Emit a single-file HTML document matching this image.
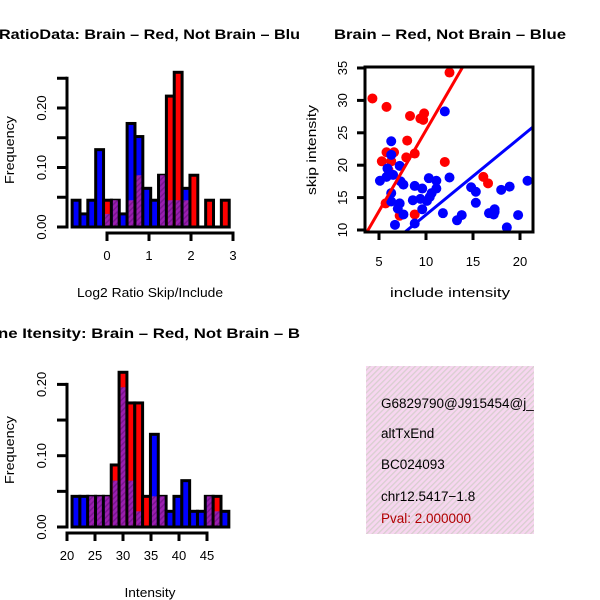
<!DOCTYPE html>
<html><head><meta charset="utf-8"><style>
body{margin:0;background:#fff}
svg{display:block;font-family:"Liberation Sans",sans-serif}
</style></head><body>
<svg id="c" width="600" height="600" viewBox="0 0 600 600" xmlns="http://www.w3.org/2000/svg">
<defs>
<pattern id="hatch" width="4" height="4" patternUnits="userSpaceOnUse" patternTransform="rotate(45)">
<rect width="4" height="4" fill="#9b1fb0"/><rect width="1.5" height="4" fill="#7a1590"/>
</pattern>
<pattern id="pink" width="4" height="4" patternUnits="userSpaceOnUse" patternTransform="rotate(45)">
<rect width="4" height="4" fill="#f7d6f0"/><rect width="1.3" height="4" fill="#d8cfcf"/>
</pattern>
<clipPath id="left"><rect x="0" y="0" width="300" height="600"/></clipPath>
<clipPath id="sc"><rect x="365" y="67" width="168" height="165"/></clipPath>
<clipPath id="box"><rect x="366" y="366" width="168" height="168"/></clipPath>
</defs>
<g id="g1"></g><g id="g2"></g><g id="g3"></g>
<g>
<rect x="366" y="366" width="168" height="168" fill="url(#pink)"/>
<g clip-path="url(#box)" font-size="13.5">
<text x="381" y="408">G6829790@J915454@j_</text>
<text x="381" y="438">altTxEnd</text>
<text x="381" y="469">BC024093</text>
<text x="381" y="501">chr12.5417−1.8</text>
<text x="381" y="523" fill="#b00000">Pval: 2.000000</text>
</g></g>
</svg>
<script>
// Histogram 1 data (Log2 ratio)
const h1Start = -0.83, h1Width = 0.187;
const h1Blue = [0.045,0.022,0.045,0.13,0.022,0.045,0.022,0.174,0.152,0.065,0.045,0.087,0.045,0.045,0.065,0,0,0,0,0];
const h1Red  = [0,0,0,0,0.045,0.045,0,0.045,0.087,0,0,0.087,0.22,0.26,0.045,0.087,0,0.045,0,0.045];
const h1XTicks = [0,1,2,3];
const h1YTicks = [0,0.05,0.10,0.15,0.20,0.25];
// Histogram 2 data (Intensity)
const h2Start = 20.9, h2Width = 1.4;
const h2Blue = [0.043,0.043,0.043,0.043,0.043,0.065,0.196,0.065,0.022,0,0.13,0.043,0.022,0.043,0.065,0.022,0.022,0.043,0.022,0.022];
const h2Red  = [0,0,0.043,0.043,0.043,0.087,0.217,0.174,0.174,0.043,0.043,0.043,0,0,0,0,0,0.043,0.043,0];
const h2XTicks = [20,25,30,35,40,45];
const h2YTicks = [0,0.05,0.10,0.15,0.20];
// Scatter data
const redX = [4.3,5.8,12.5,8.3,9.4,9.8,9.7,8.0,5.3,5.8,6.6,6.3,7.9,8.8,12.0,6.0,5.7,7.2,8.8,16.1,16.6];
const redY = [30.3,29.0,34.3,27.6,27.2,28.0,27.0,23.8,20.6,22.0,22.0,20.6,21.2,21.8,20.5,19.3,14.1,12.2,12.4,18.2,17.2];
const blueX = [6.3,12.0,6.3,7.2,5.9,5.1,5.8,6.5,7.3,7.6,6.3,6.3,7.2,7.0,7.6,6.7,8.8,9.6,8.6,9.4,10.1,9.6,10.3,11.1,11.1,10.6,10.4,11.8,12.5,13.3,13.8,8.8,14.8,15.3,15.3,16.7,17.3,17.3,17.2,18.0,18.9,18.6,19.8,20.8];
const blueY = [23.7,28.3,21.6,19.9,19.5,17.6,18.2,18.5,17.5,17.0,15.7,14.4,14.1,13.3,12.4,10.8,16.8,16.4,14.6,14.8,14.5,13.2,18.0,17.6,16.4,15.7,15.1,12.6,18.1,11.5,12.3,11.0,16.6,15.9,14.2,12.6,12.8,13.2,12.4,16.2,16.7,10.4,12.3,17.6];
const redFit = [0.4, 2.5];   // intercept, slope
const blueFit = [0.45, 1.19];
const scXTicks = [5,10,15,20];
const scYTicks = [10,15,20,25,30,35];

const NS="http://www.w3.org/2000/svg";
function mk(parent,tag,attrs,text){const e=document.createElementNS(NS,tag);for(const k in attrs)e.setAttribute(k,attrs[k]);if(text!==undefined)e.textContent=text;parent.appendChild(e);return e;}

function hist(g,cfg){
  const sx=v=>cfg.x0+(v-cfg.xa)*cfg.kx, sy=v=>cfg.y0-v*cfg.ky;
  const title=mk(g,'text',{x:cfg.titleX,y:cfg.titleY,'font-size':14,'font-weight':'bold',textLength:cfg.titleLen,lengthAdjust:'spacingAndGlyphs','clip-path':'url(#left)'},cfg.title);
  
  
  const bars=mk(g,'g',{});
  
  
  for(let i=0;i<cfg.blue.length;i++){
    const b=cfg.blue[i], r=cfg.red[i];
    const xl=sx(cfg.start+i*cfg.width), xr=sx(cfg.start+(i+1)*cfg.width);
    const top=Math.max(b,r), mn=Math.min(b,r);
    if(top<=0) continue;
    const col=b>=r?'#0000ff':'#ff0000';
    const bar=mk(bars,'rect',{x:xl,y:sy(top),width:xr-xl,height:sy(0)-sy(top),fill:col,stroke:'#000','stroke-width':3});
    
    
    if(mn>0){
      const p=mk(bars,'rect',{x:xl+1.5,y:sy(mn),width:xr-xl-3,height:sy(0)-sy(mn)-1.5,fill:'url(#hatch)'});
      
      
    }
  }
  mk(bars,'line',{x1:sx(cfg.start)-1,x2:sx(cfg.start+cfg.blue.length*cfg.width)+1,y1:sy(0),y2:sy(0),stroke:'#000','stroke-width':3});
  const ya=mk(g,'g',{});
  
  
  const yt=cfg.yticks;
  mk(ya,'line',{x1:67,x2:67,y1:sy(yt[0])+1.5,y2:sy(yt[yt.length-1])-1.5,stroke:'#000','stroke-width':3});
  yt.forEach((v,i)=>{
    mk(ya,'line',{x1:57,x2:67,y1:sy(v),y2:sy(v),stroke:'#000','stroke-width':3});
    if(i%2===0){mk(ya,'text',{x:0,y:0,'font-size':13,'text-anchor':'middle',transform:`translate(46,${sy(v)}) rotate(-90)`},v.toFixed(2));}
  });
  const yl=mk(g,'text',{x:0,y:0,'font-size':13,'text-anchor':'middle',textLength:68,lengthAdjust:'spacingAndGlyphs',transform:`translate(14,${cfg.ylabY}) rotate(-90)`},'Frequency');
  
  
  const xa=mk(g,'g',{});
  
  
  const xt=cfg.xticks, ay=cfg.axisY;
  mk(xa,'line',{x1:sx(xt[0])-1.5,x2:sx(xt[xt.length-1])+1.5,y1:ay,y2:ay,stroke:'#000','stroke-width':3});
  xt.forEach(v=>{
    mk(xa,'line',{x1:sx(v),x2:sx(v),y1:ay,y2:ay+8,stroke:'#000','stroke-width':3});
    mk(xa,'text',{x:sx(v),y:ay+27,'font-size':13,'text-anchor':'middle'},String(v));
  });
  const xl=mk(g,'text',{x:150,y:cfg.xlabY,'font-size':13,'text-anchor':'middle',textLength:cfg.xlabLen,lengthAdjust:'spacingAndGlyphs'},cfg.xlab);
  
  
}

hist(document.getElementById('g1'),{title:'RatioData: Brain – Red, Not Brain – Blue',titleX:-1,titleY:39,titleLen:310,
  xa:0,x0:107,kx:42,y0:227,ky:595,start:h1Start,width:h1Width,blue:h1Blue,red:h1Red,
  xticks:h1XTicks,yticks:h1YTicks,axisY:233,ylabY:150,xlab:'Log2 Ratio Skip/Include',xlabLen:146,xlabY:297});
hist(document.getElementById('g2'),{title:'ne Itensity: Brain – Red, Not Brain – B',titleX:-2,titleY:338,titleLen:302,
  xa:20,x0:67,kx:5.6,y0:527,ky:713,start:h2Start,width:h2Width,blue:h2Blue,red:h2Red,
  xticks:h2XTicks,yticks:h2YTicks,axisY:533,ylabY:450,xlab:'Intensity',xlabLen:51,xlabY:597});

// Scatter
(function(){
  const g=document.getElementById('g3');
  const sx=v=>379+(v-5)*9.4, sy=v=>230-(v-10)*6.48;
  const t=mk(g,'text',{x:450,y:39,'font-size':14,'font-weight':'bold','text-anchor':'middle',textLength:232,lengthAdjust:'spacingAndGlyphs'},'Brain – Red, Not Brain – Blue');
  
  
  const pts=mk(g,'g',{'clip-path':'url(#sc)'});
  
  
  redX.forEach((x,i)=>{const c=mk(pts,'circle',{cx:sx(x),cy:sy(redY[i]),r:5,fill:'#ff0000'});
    
    });
  blueX.forEach((x,i)=>{const c=mk(pts,'circle',{cx:sx(x),cy:sy(blueY[i]),r:5,fill:'#0000ff'});
    
    });
  const xs=[0,25];
  const rl=mk(pts,'line',{x1:sx(xs[0]),y1:sy(redFit[0]+redFit[1]*xs[0]),x2:sx(xs[1]),y2:sy(redFit[0]+redFit[1]*xs[1]),stroke:'#ff0000','stroke-width':3});
  
  
  const bl=mk(pts,'line',{x1:sx(xs[0]),y1:sy(blueFit[0]+blueFit[1]*xs[0]),x2:sx(xs[1]),y2:sy(blueFit[0]+blueFit[1]*xs[1]),stroke:'#0000ff','stroke-width':3});
  
  
  const box=mk(g,'rect',{x:365,y:67,width:168,height:165,fill:'none',stroke:'#000','stroke-width':3});
  
  
  const ya=mk(g,'g',{});
  
  
  scYTicks.forEach(v=>{mk(ya,'line',{x1:357,x2:365,y1:sy(v),y2:sy(v),stroke:'#000','stroke-width':3});
    mk(ya,'text',{x:0,y:0,'font-size':13,'text-anchor':'middle',transform:`translate(347,${sy(v)}) rotate(-90)`},String(v));});
  const xa=mk(g,'g',{});
  
  
  scXTicks.forEach(v=>{mk(xa,'line',{x1:sx(v),x2:sx(v),y1:232,y2:240,stroke:'#000','stroke-width':3});
    mk(xa,'text',{x:sx(v),y:266,'font-size':13,'text-anchor':'middle'},String(v));});
  const yl=mk(g,'text',{x:0,y:0,'font-size':13,'text-anchor':'middle',textLength:90,lengthAdjust:'spacingAndGlyphs',transform:'translate(316,150) rotate(-90)'},'skip intensity');
  
  
  const xl=mk(g,'text',{x:450,y:297,'font-size':13,'text-anchor':'middle',textLength:120,lengthAdjust:'spacingAndGlyphs'},'include intensity');
  
  
})();
</script>
</body></html>
